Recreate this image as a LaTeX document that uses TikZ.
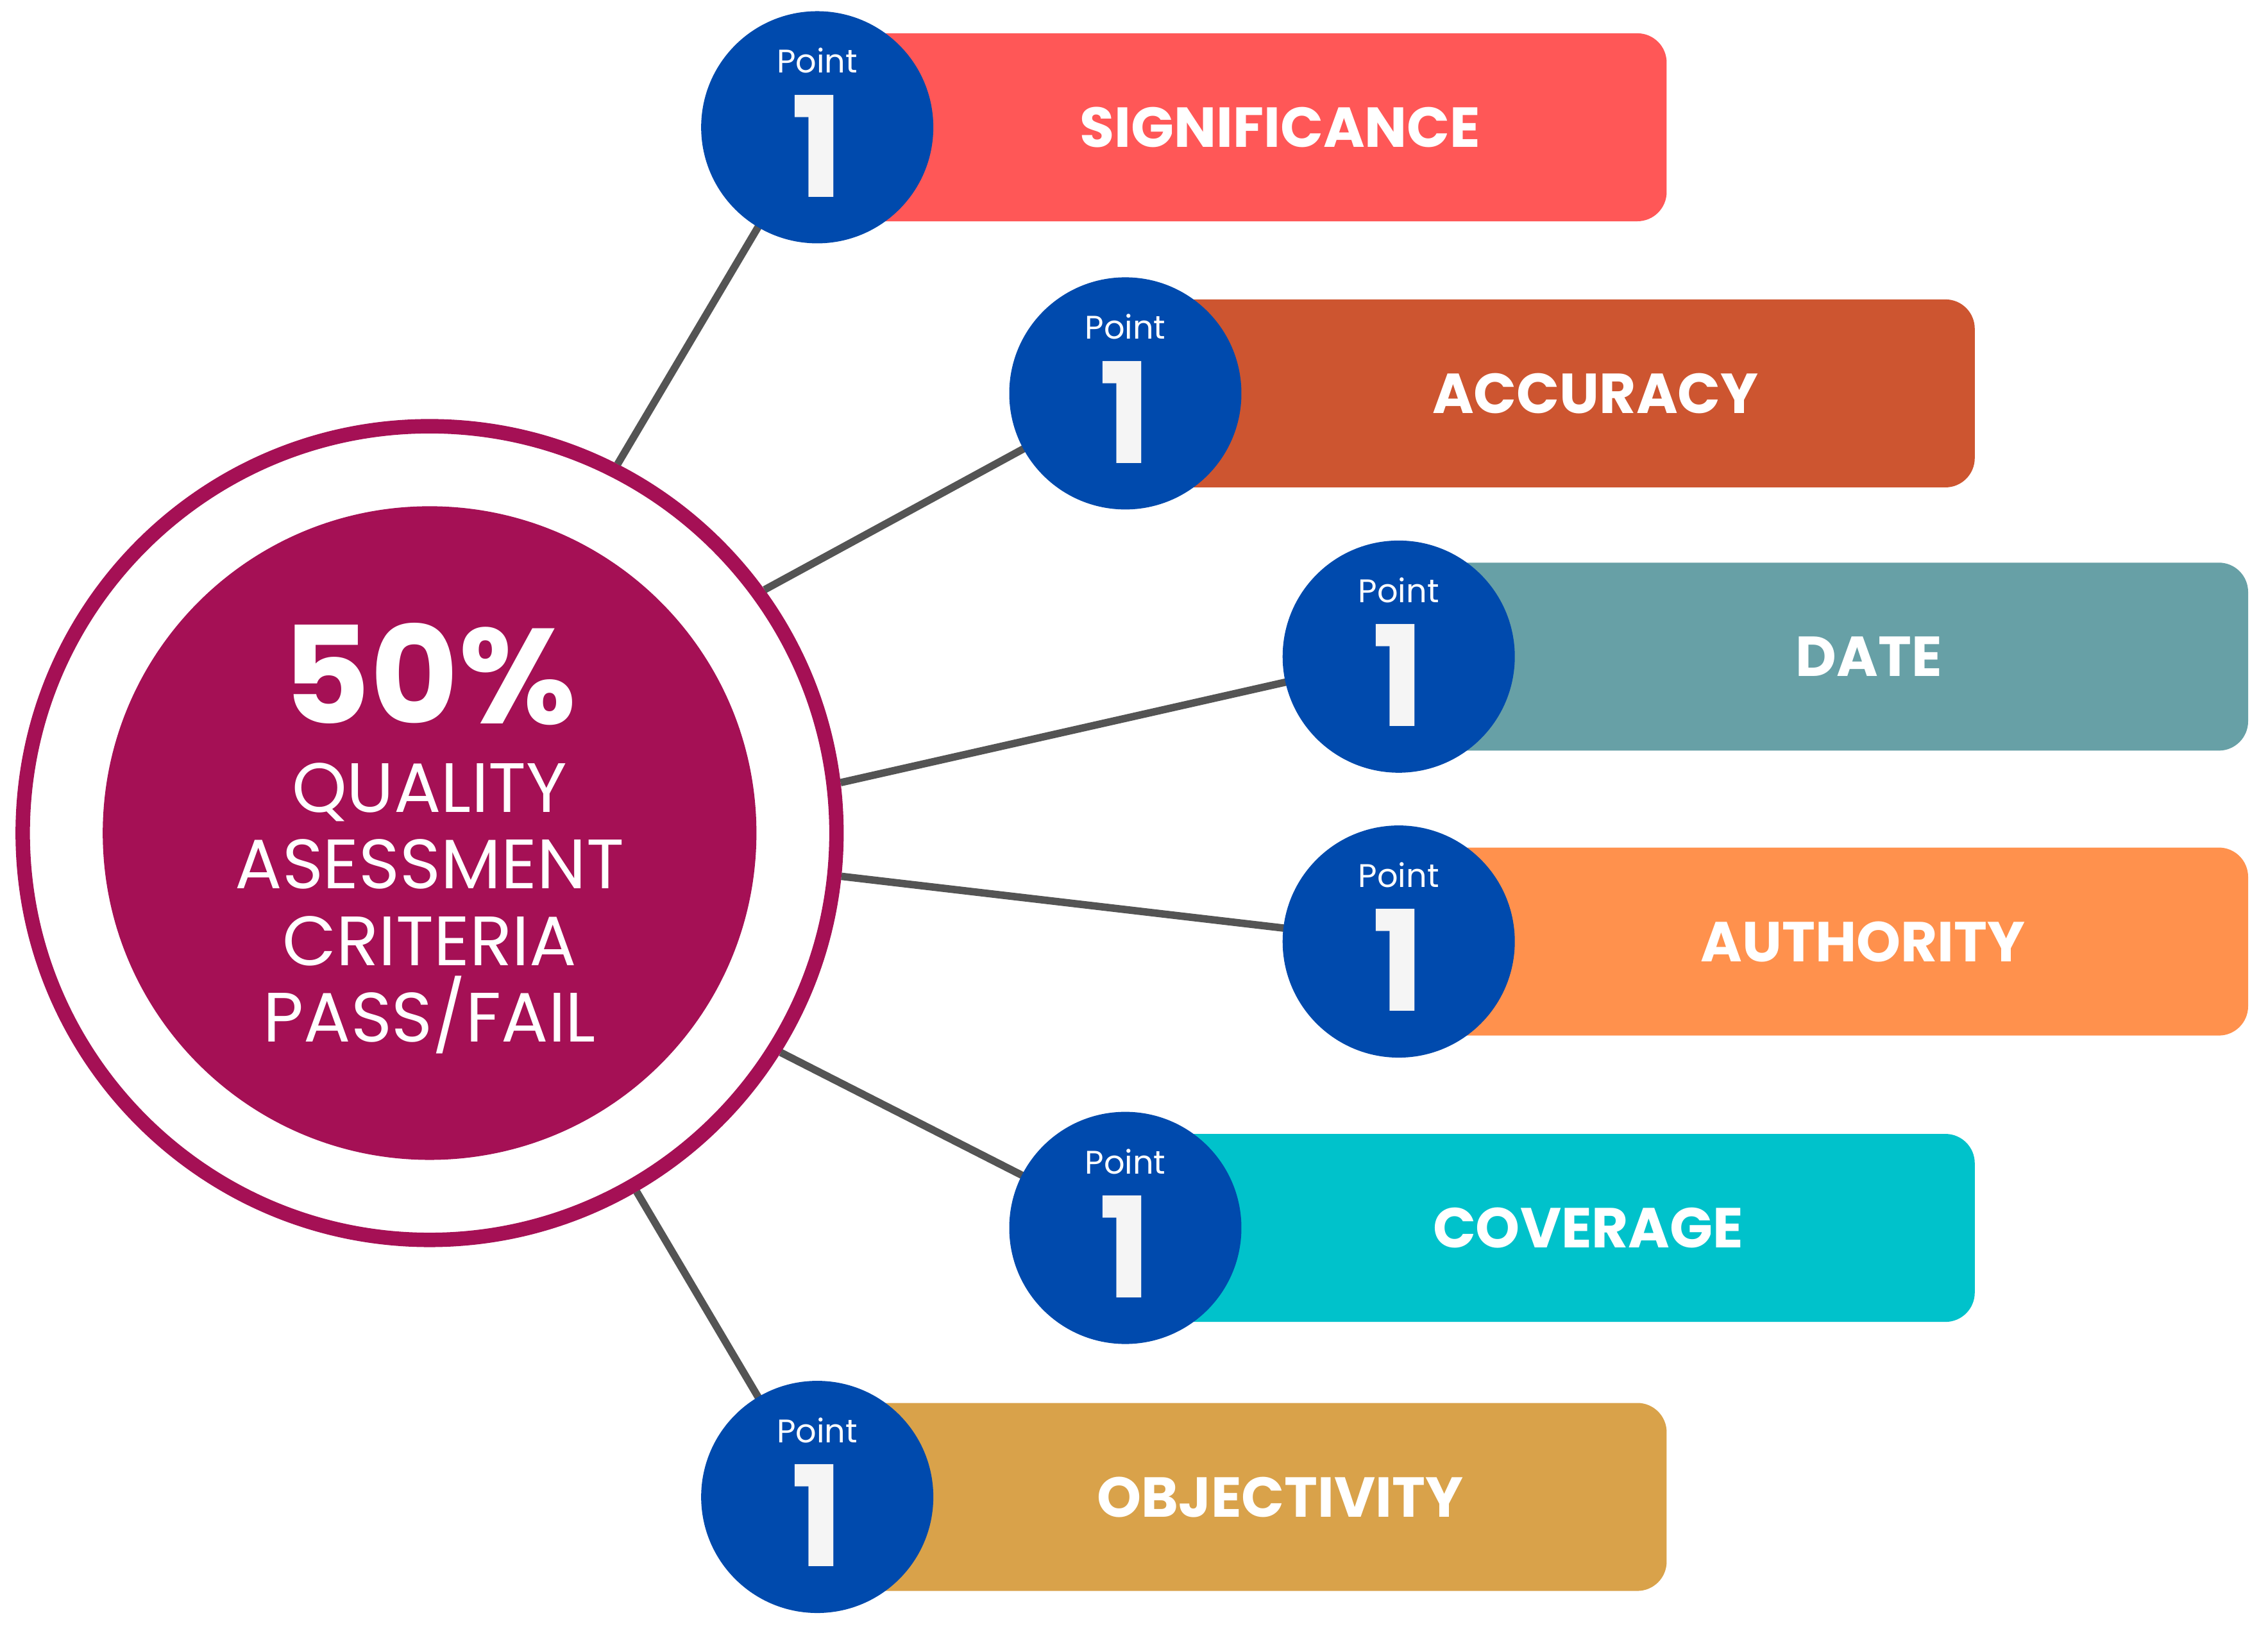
\documentclass[tikz,border=0pt]{standalone}
\usepackage{fontspec}
\setmainfont{Poppins}
\begin{document}
\begin{tikzpicture}[x=0.02255cm,y=-0.02255cm,
  link/.style={draw=black!67,line width=3.3pt},
  bar/.style={rounded corners=13pt,minimum height=83.4pt,anchor=west,inner sep=0pt},
  pt/.style={circle,fill=blue1,minimum size=103pt,inner sep=0pt},
  lab/.style={text=white,font=\bfseries\fontsize{25}{30}\selectfont}]
\definecolor{mag}{HTML}{A51055}
\definecolor{blue1}{HTML}{004AAD}
\definecolor{c1}{HTML}{FF5757}
\definecolor{c2}{HTML}{CD5530}
\definecolor{c3}{HTML}{67A0A6}
\definecolor{c4}{HTML}{FF914D}
\definecolor{c5}{HTML}{00C2CB}
\definecolor{c6}{HTML}{D9A24A}
\useasboundingbox (0,0) rectangle (1568,1126);
\node[circle,draw=mag,line width=6.4pt,fill=white,minimum size=361pt,inner sep=0pt] (big) at (297,576) {};
\node[circle,fill=mag,minimum size=290pt,inner sep=0pt] (inner) at (297,576) {};
\node[text=white,font=\bfseries\fontsize{60}{60}\selectfont] (pct) at (297,466) {50\%};
\node[text=white,align=center,font=\fontsize{31}{34}\selectfont] (qt) at (297,628) {QUALITY\\ASESSMENT\\CRITERIA\\PASS/FAIL};
\foreach \n/\x/\y/\a/\c/\w/\t/\lx in {
 1/565/88/63.3/c1/587/SIGNIFICANCE/885,
 2/778/272/36.5/c2/587/ACCURACY/1103,
 3/967/454/7/c3/587/DATE/1292,
 4/967/651/-6.6/c4/587/AUTHORITY/1288,
 5/778/849/-32.4/c5/587/COVERAGE/1098,
 6/565/1035/-60.6/c6/587/OBJECTIVITY/885}{
 \coordinate (p\n) at (\x,\y);
 \draw[link] (big.\a) -- (p\n);
 \node[bar,fill=\c,minimum width=\w*0.6416pt] (b\n) at (\x,\y) {};
 \node[lab] (l\n) at (\lx,\y) {\t};
 \node[pt] (c\n) at (p\n) {};
 \node[text=white,font=\fontsize{14.5}{15}\selectfont] (pp\n) at (\x,\y-46) {Point};
 \node[text=white!96!black,font=\bfseries\fontsize{62}{62}\selectfont] (o\n) at (\x,\y+13) {1};
}
\end{tikzpicture}
\end{document}
